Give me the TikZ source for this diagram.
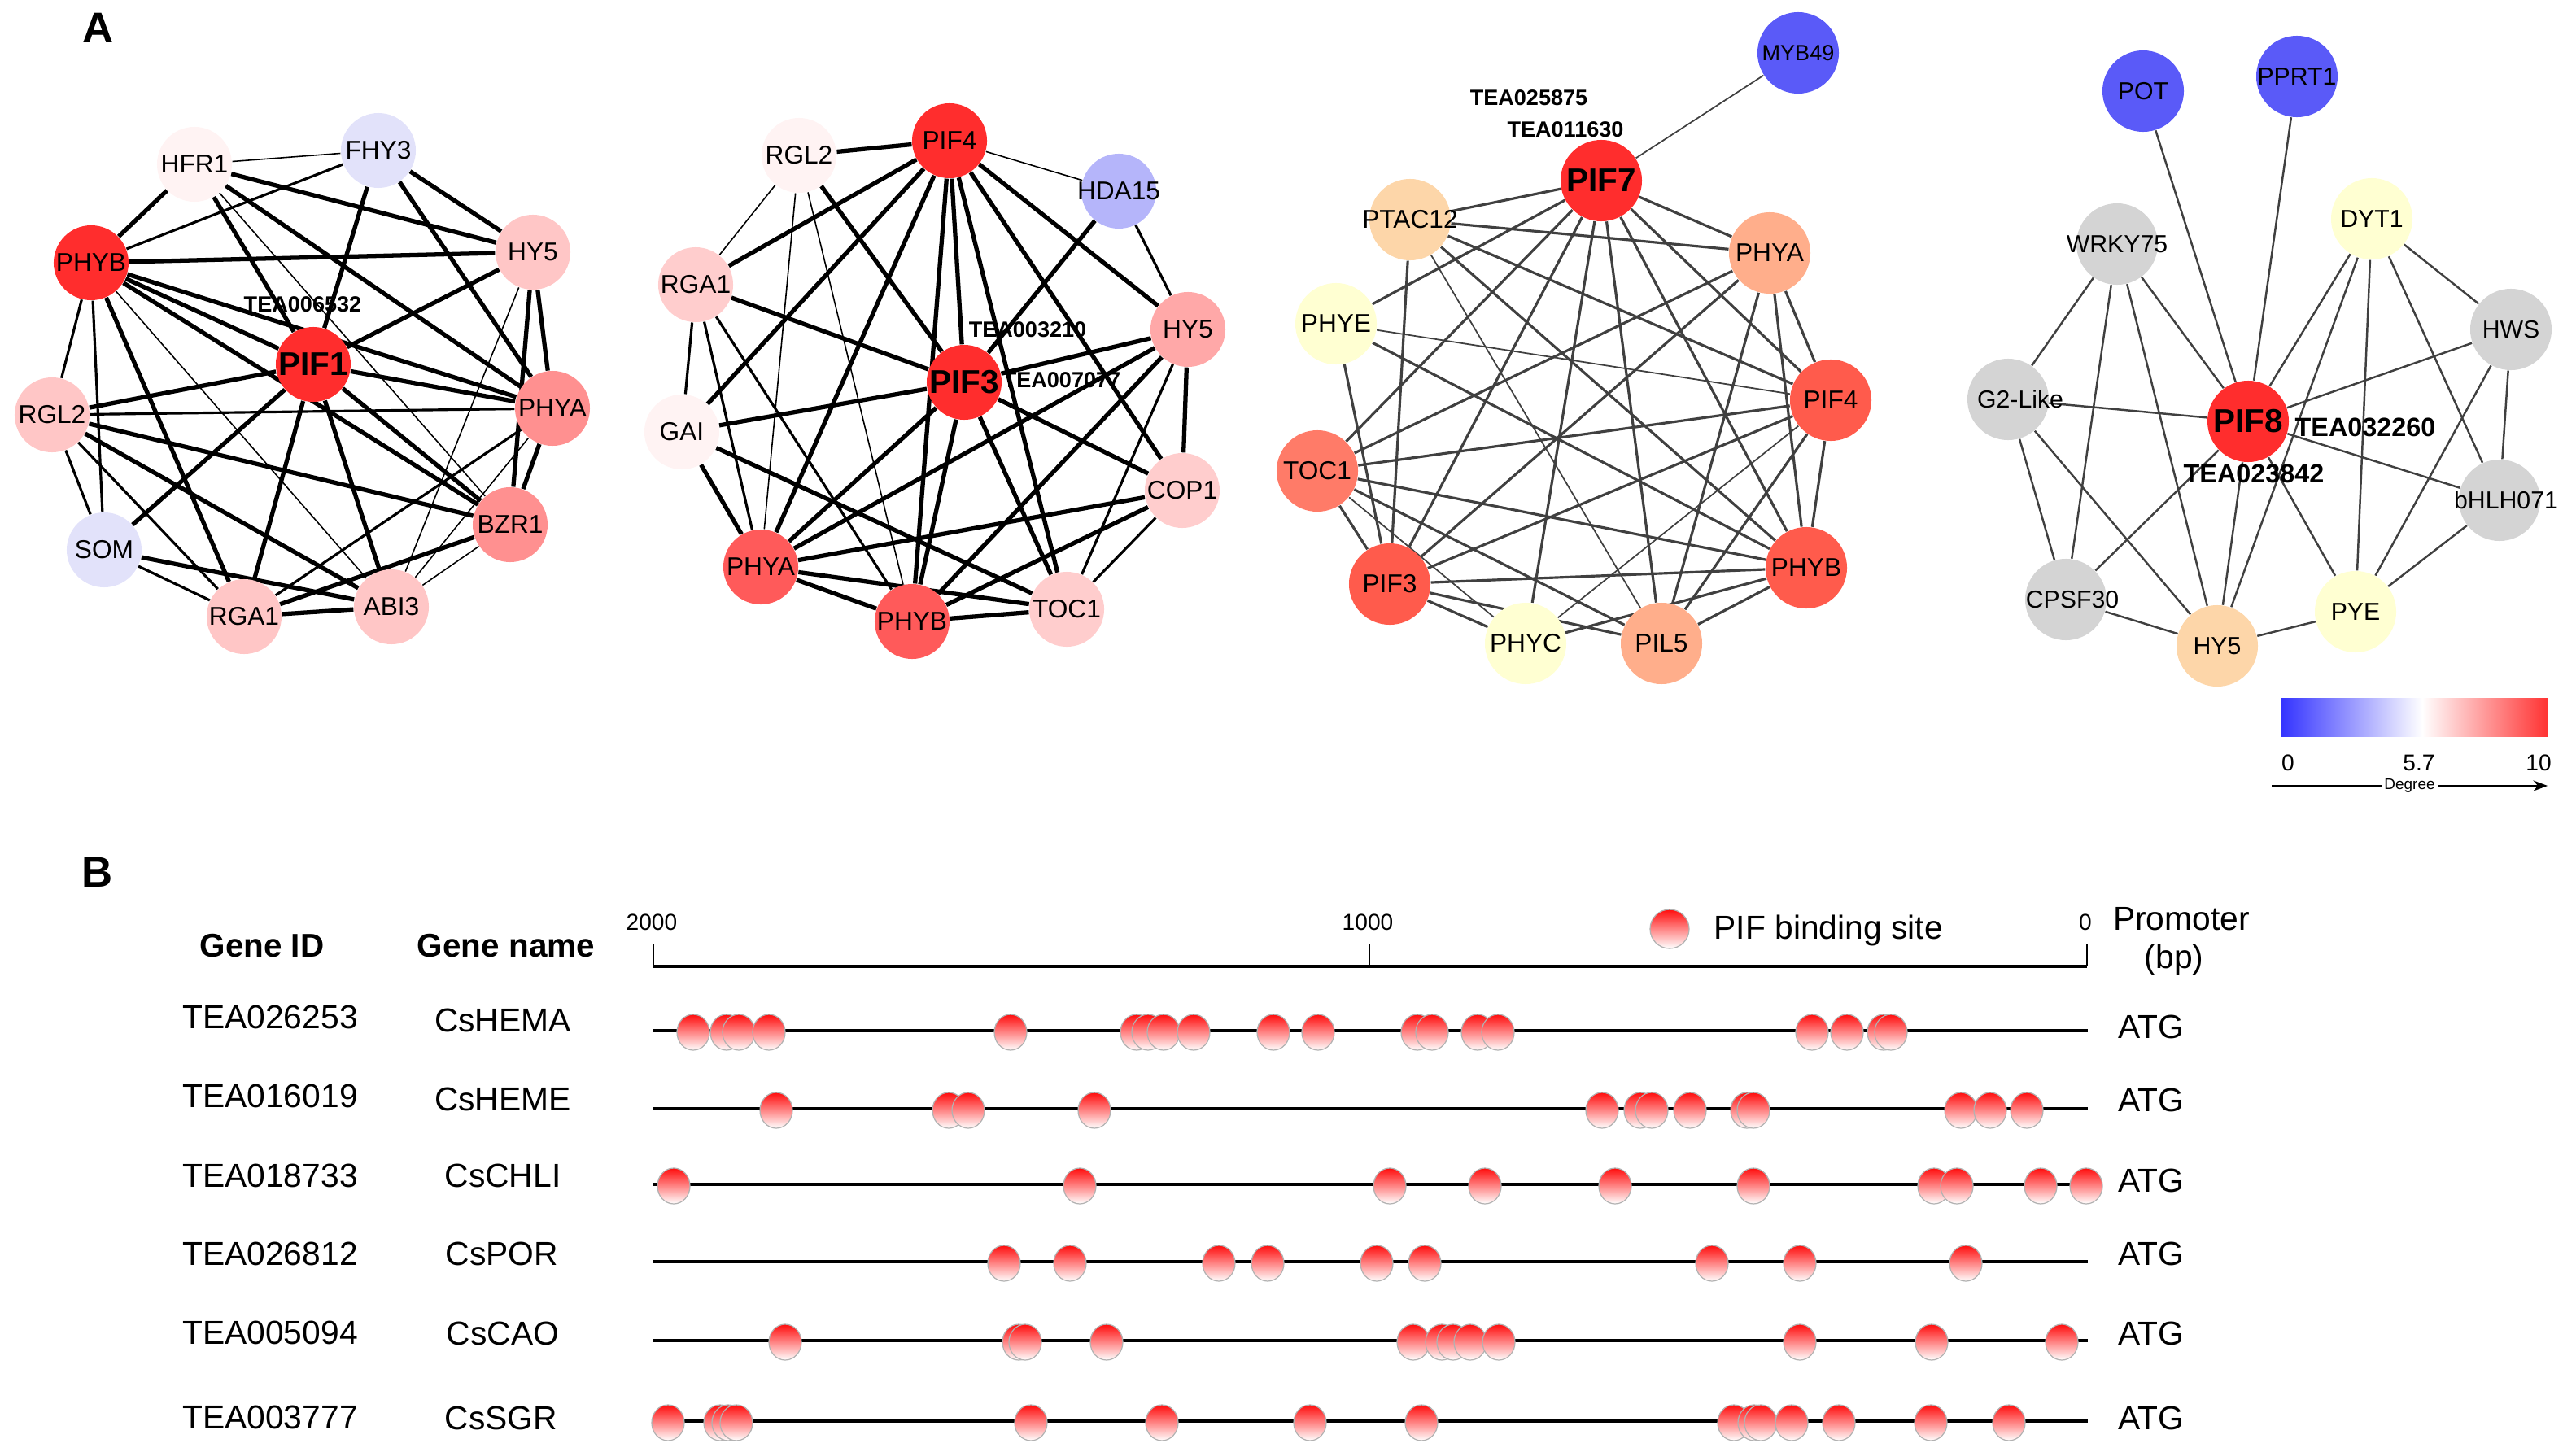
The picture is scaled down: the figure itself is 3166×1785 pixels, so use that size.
\documentclass[tikz,border=0pt]{standalone}
\usepackage{fontspec}
\setmainfont{Liberation Sans}
\usetikzlibrary{backgrounds,arrows.meta}

\definecolor{hubred}{HTML}{FF2D2D}
\definecolor{redA}{HTML}{FF5A5A}
\definecolor{redB}{HTML}{FF9090}
\definecolor{redC}{HTML}{FFA8A8}
\definecolor{pinkA}{HTML}{FFC6C6}
\definecolor{pinkB}{HTML}{FFCDCD}
\definecolor{pinkC}{HTML}{FFF3F3}
\definecolor{lilacA}{HTML}{E2E2FA}
\definecolor{lilacB}{HTML}{B5B5FA}
\definecolor{blueA}{HTML}{5A5AF8}
\definecolor{peach}{HTML}{FDD6A9}
\definecolor{salmon}{HTML}{FFAE8B}
\definecolor{tomato}{HTML}{FF7B68}
\definecolor{scarlet}{HTML}{FF5B4C}
\definecolor{creamy}{HTML}{FFFFD2}
\definecolor{ashgrey}{HTML}{D4D4D4}
\definecolor{linkgrey}{HTML}{404040}
\definecolor{cbblue}{HTML}{3333FF}
\definecolor{cbred}{HTML}{FF3333}

\tikzstyle{site}=[circle, minimum size=0.92cm, inner sep=0, font=\fontsize{9}{10}\selectfont]
\tikzstyle{bigsite}=[circle, minimum size=1.0cm, inner sep=0, font=\fontsize{9}{10}\selectfont]
\tikzstyle{smallfont}=[font=\fontsize{8.6}{10}\selectfont]
\tikzstyle{hub}=[font=\fontsize{11.5}{12}\selectfont\bfseries]
\tikzstyle{tealabel}=[font=\fontsize{7.7}{8}\selectfont\bfseries, inner sep=0]
\tikzstyle{tealabelbig}=[font=\fontsize{9.2}{10}\selectfont\bfseries, inner sep=0]
\tikzstyle{heavylink}=[line width=1.5pt]
\tikzstyle{midlink}=[line width=0.9pt]
\tikzstyle{thinlink}=[line width=0.45pt]
\tikzstyle{greylink}=[line width=0.9pt, draw=linkgrey]
\tikzstyle{faintlink}=[line width=0.5pt, draw=linkgrey]
\tikzstyle{panel}=[font=\fontsize{15}{16}\selectfont\bfseries]
\tikzstyle{rowtext}=[font=\fontsize{11.6}{13}\selectfont, inner sep=0]
\tikzstyle{head}=[font=\fontsize{11.5}{13}\selectfont\bfseries, inner sep=0]
\tikzstyle{ticktext}=[font=\fontsize{8}{9}\selectfont, inner sep=0]
\tikzstyle{rowline}=[line width=1.3pt]
\tikzstyle{tickline}=[line width=0.8pt]
\tikzstyle{bsite}=[draw=gray!60, line width=0.35pt, top color=red!95, bottom color=white]

\newcommand{\nm}[1]{\makebox[0pt]{#1}}

\begin{document}
\begin{tikzpicture}[x=0.01cm, y=-0.01cm]
\useasboundingbox (0,0) rectangle (3166,1785);

\node [panel] (lettA) at (121,34) {A};
\node [panel] (lettB) at (120,1072) {B};

% network of PIF1
\node [site, fill=pinkC] (hfrA) at (239,202) {\nm{HFR1}};
\node [site, fill=lilacA] (fhyA) at (465,185) {\nm{FHY3}};
\node [site, fill=hubred] (phybA) at (112,323) {\nm{PHYB}};
\node [site, fill=pinkA] (hyA) at (655,310) {\nm{HY5}};
\node [site, hub, fill=hubred] (pifA) at (385,448) {\nm{PIF1}};
\node [site, fill=pinkA] (rglA) at (64,510) {\nm{RGL2}};
\node [site, fill=redB] (phyaA) at (679,502) {\nm{PHYA}};
\node [site, fill=redB] (bzrA) at (627,645) {\nm{BZR1}};
\node [site, fill=lilacA] (somA) at (128,676) {\nm{SOM}};
\node [site, fill=pinkA] (rgaA) at (300,758) {\nm{RGA1}};
\node [site, fill=pinkA] (abiA) at (481,746) {\nm{ABI3}};
\node [tealabel] (teaA) at (372,374) {TEA006532};

% network of PIF3
\node [site, fill=hubred] (pifFourB) at (1167,173) {\nm{PIF4}};
\node [site, fill=pinkC] (rglB) at (982,191) {\nm{RGL2}};
\node [site, fill=lilacB] (hdaB) at (1375,235) {\nm{HDA15}};
\node [site, fill=pinkB] (rgaB) at (855,350) {\nm{RGA1}};
\node [site, fill=redC] (hyB) at (1460,405) {\nm{HY5}};
\node [site, hub, fill=hubred] (pifB) at (1185,470) {\nm{PIF3}};
\node [site, fill=pinkC] (gaiB) at (838,531) {\nm{GAI}};
\node [site, fill=pinkB] (copB) at (1453,603) {\nm{COP1}};
\node [site, fill=redA] (phyaB) at (935,697) {\nm{PHYA}};
\node [site, fill=redA] (phybB) at (1121,764) {\nm{PHYB}};
\node [site, fill=pinkB] (tocB) at (1311,749) {\nm{TOC1}};
\node [tealabel] (teaB) at (1263,405) {TEA003210};
\node [tealabel] (teaBB) at (1305,467) {TEA007077};

% network of PIF7
\node [bigsite, fill=blueA, font=\fontsize{7.7}{9}\selectfont] (mybC) at (2210,65) {\nm{MYB49}};
\node [bigsite, hub, fill=hubred] (pifC) at (1968,222) {\nm{PIF7}};
\node [bigsite, fill=peach] (ptacC) at (1733,270) {\nm{PTAC12}};
\node [bigsite, fill=salmon] (phyaC) at (2175,311) {\nm{PHYA}};
\node [bigsite, fill=creamy] (phyeC) at (1642,398) {\nm{PHYE}};
\node [bigsite, fill=scarlet] (pifFourC) at (2250,492) {\nm{PIF4}};
\node [bigsite, fill=tomato] (tocC) at (1619,579) {\nm{TOC1}};
\node [bigsite, fill=scarlet] (phybC) at (2220,698) {\nm{PHYB}};
\node [bigsite, fill=scarlet] (pifThreeC) at (1708,718) {\nm{PIF3}};
\node [bigsite, fill=creamy] (phycC) at (1875,791) {\nm{PHYC}};
\node [bigsite, fill=salmon] (pilC) at (2042,791) {\nm{PIL5}};
\node [tealabel] (teaC) at (1879,120) {TEA025875};
\node [tealabel] (teaCC) at (1924,159) {TEA011630};

% network of PIF8
\node [bigsite, smallfont, fill=blueA] (potD) at (2634,112) {\nm{POT}};
\node [bigsite, smallfont, fill=blueA] (pprtD) at (2823,94) {\nm{PPRT1}};
\node [bigsite, smallfont, fill=ashgrey] (wrkyD) at (2602,300) {\nm{WRKY75}};
\node [bigsite, smallfont, fill=creamy] (dytD) at (2915,269) {\nm{DYT1}};
\node [bigsite, smallfont, fill=ashgrey] (hwsD) at (3086,405) {\nm{HWS}};
\node [bigsite, smallfont, fill=ashgrey] (gtwoD) at (2468,491) {\nm{\hspace{0.3cm}G2-Like}};
\node [bigsite, hub, fill=hubred] (pifD) at (2763,518) {\nm{PIF8}};
\node [bigsite, smallfont, fill=ashgrey] (bhlhD) at (3072,615) {\nm{\hspace{0.16cm}bHLH071}};
\node [bigsite, smallfont, fill=ashgrey] (cpsfD) at (2539,737) {\nm{\hspace{0.16cm}CPSF30}};
\node [bigsite, smallfont, fill=creamy] (pyeD) at (2895,752) {\nm{PYE}};
\node [bigsite, smallfont, fill=peach] (hyD) at (2725,794) {\nm{HY5}};
\node [tealabelbig] (teaD) at (2907,525) {TEA032260};
\node [tealabelbig] (teaDD) at (2770,582) {TEA023842};

\begin{pgfonlayer}{background}
\draw [heavylink] (hfrA) -- (phybA) (hfrA) -- (hyA) (hfrA) -- (phyaA)
        (hfrA) -- (pifA) (fhyA) -- (pifA) (fhyA) -- (hyA)
        (fhyA) -- (phyaA) (phybA) -- (hyA) (phybA) -- (pifA)
        (phybA) -- (phyaA) (phybA) -- (bzrA) (phybA) -- (rgaA)
        (hyA) -- (pifA) (hyA) -- (phyaA) (hyA) -- (bzrA)
        (pifA) -- (rglA) (pifA) -- (phyaA) (pifA) -- (bzrA)
        (pifA) -- (somA) (pifA) -- (rgaA) (pifA) -- (abiA)
        (rglA) -- (bzrA) (rglA) -- (abiA) (bzrA) -- (rgaA)
        (somA) -- (abiA) (rgaA) -- (abiA) (phyaA) -- (bzrA);
\draw [midlink] (phybA) -- (somA) (rglA) -- (phyaA) (rglA) -- (rgaA)
        (rglA) -- (somA) (phyaA) -- (rgaA) (somA) -- (rgaA)
        (fhyA) -- (phybA) (phybA) -- (rglA);
\draw [thinlink] (hfrA) -- (fhyA) (hfrA) -- (bzrA) (phybA) -- (abiA)
        (hyA) -- (abiA) (bzrA) -- (abiA) (phyaA) -- (abiA);

\draw [heavylink] (rglB) -- (pifFourB) (pifFourB) -- (rgaB) (pifFourB) -- (gaiB)
        (pifFourB) -- (phyaB) (pifFourB) -- (phybB) (pifFourB) -- (pifB)
        (pifFourB) -- (tocB) (pifFourB) -- (copB) (pifFourB) -- (hyB)
        (rglB) -- (pifB) (hdaB) -- (pifB) (rgaB) -- (pifB)
        (hyB) -- (pifB) (hyB) -- (phyaB) (hyB) -- (phybB)
        (hyB) -- (copB) (pifB) -- (gaiB) (pifB) -- (phyaB)
        (pifB) -- (phybB) (pifB) -- (tocB) (pifB) -- (copB)
        (gaiB) -- (phyaB) (gaiB) -- (tocB) (copB) -- (phyaB)
        (copB) -- (phybB) (phyaB) -- (phybB) (phyaB) -- (tocB)
        (phybB) -- (tocB);
\draw [midlink] (hdaB) -- (hyB) (rgaB) -- (gaiB) (rgaB) -- (phyaB)
        (rgaB) -- (phybB) (hyB) -- (tocB) (copB) -- (tocB);
\draw [thinlink] (pifFourB) -- (hdaB) (rglB) -- (rgaB) (rglB) -- (phyaB)
        (rglB) -- (phybB);

\draw [greylink] (pifC) -- (ptacC) (pifC) -- (phyaC) (pifC) -- (phyeC)
        (pifC) -- (tocC) (pifC) -- (pifThreeC) (pifC) -- (phycC)
        (pifC) -- (pilC) (pifC) -- (phybC) (pifC) -- (pifFourC)
        (ptacC) -- (phyaC) (ptacC) -- (pifFourC) (ptacC) -- (phybC)
        (ptacC) -- (pifThreeC) (phyaC) -- (tocC) (phyaC) -- (pifThreeC)
        (phyaC) -- (pifFourC) (phyaC) -- (phybC) (phyaC) -- (pilC)
        (phyeC) -- (phybC) (phyeC) -- (pifThreeC) (tocC) -- (pifFourC)
        (tocC) -- (phybC) (tocC) -- (pifThreeC) (tocC) -- (pilC)
        (pifFourC) -- (pifThreeC) (pifFourC) -- (phybC) (pifFourC) -- (pilC)
        (phybC) -- (pifThreeC) (phybC) -- (phycC) (phybC) -- (pilC)
        (pifThreeC) -- (phycC) (pifThreeC) -- (pilC);
\draw [faintlink] (pifC) -- (mybC) (ptacC) -- (pilC) (phyeC) -- (pifFourC)
        (tocC) -- (phycC) (pifFourC) -- (phycC);

\draw [faintlink, line width=0.7pt] (pifD) -- (potD) (pifD) -- (pprtD) (pifD) -- (wrkyD)
        (pifD) -- (dytD) (pifD) -- (hwsD) (pifD) -- (gtwoD)
        (pifD) -- (bhlhD) (pifD) -- (cpsfD) (pifD) -- (hyD)
        (pifD) -- (pyeD) (wrkyD) -- (gtwoD) (wrkyD) -- (cpsfD)
        (wrkyD) -- (hyD) (gtwoD) -- (cpsfD) (gtwoD) -- (hyD)
        (cpsfD) -- (hyD) (hyD) -- (pyeD) (hyD) -- (dytD)
        (dytD) -- (pyeD) (dytD) -- (hwsD) (dytD) -- (bhlhD)
        (hwsD) -- (bhlhD) (hwsD) -- (pyeD) (bhlhD) -- (pyeD);
\end{pgfonlayer}

% colour bar
\shade [left color=cbblue, right color=white] (2803,858) rectangle (2977,905);
\shade [left color=white, right color=cbred] (2977,858) rectangle (3131,905);
\node [ticktext] (cbzero) at (2812,938) {0};
\node [ticktext] (cbmid) at (2973,938) {5.7};
\node [ticktext] (cbten) at (3120,938) {10};
\coordinate (degstart) at (2792,966);
\coordinate (degend) at (3131,966);
\draw [line width=0.6pt, -{Stealth[length=5pt]}] (degstart) -- node [fill=white, inner sep=1pt, font=\fontsize{5.4}{6}\selectfont] (deg) {Degree} (degend);

% promoter panel
\node [head] (hid) at (322,1163) {Gene ID};
\node [head] (hname) at (622,1163) {Gene name};
\node [ticktext] (tktwo) at (801,1134) {2000};
\node [ticktext] (tkone) at (1681,1134) {1000};
\node [ticktext] (tkzero) at (2563,1134) {0};
\draw [rowline] (803,1188) -- (2565,1188);
\draw [tickline] (803,1160) -- (803,1188) (1683,1160) -- (1683,1188) (2565,1160) -- (2565,1188);
\path [bsite] (2052,1142) ellipse (24 and 24);
\node [rowtext, anchor=west] (legtext) at (2106,1144) {PIF binding site};
\node [rowtext] (prom) at (2681,1130) {Promoter};
\node [rowtext] (bp) at (2672,1180) {(bp)};

\node [rowtext] (idone) at (332,1250) {TEA026253};
\node [rowtext] (nmone) at (618,1254) {CsHEMA};
\node [rowtext, anchor=west] (atgone) at (2603,1262) {ATG};
\draw [rowline] (803,1267) -- (2566,1267);
\foreach \p in {852,893,908,945,1242,1397,1411,1430,1467,1565,1620,1742,1760,1816,1841,2227,2270,2315,2324}
  \path [bsite] (\p,1269) ellipse (20 and 22);

\node [rowtext] (idtwo) at (332,1347) {TEA016019};
\node [rowtext] (nmtwo) at (618,1351) {CsHEME};
\node [rowtext, anchor=west] (atgtwo) at (2603,1352) {ATG};
\draw [rowline] (803,1363) -- (2566,1363);
\foreach \p in {954,1166,1190,1345,1969,2016,2030,2077,2147,2155,2410,2446,2491}
  \path [bsite] (\p,1365) ellipse (20 and 22);

\node [rowtext] (idthree) at (332,1445) {TEA018733};
\node [rowtext] (nmthree) at (618,1445) {CsCHLI};
\node [rowtext, anchor=west] (atgthree) at (2603,1451) {ATG};
\draw [rowline] (803,1456) -- (2566,1456);
\foreach \p in {828,1327,1708,1825,1985,2155,2377,2405,2508,2564}
  \path [bsite] (\p,1458) ellipse (20 and 22);

\node [rowtext] (idfour) at (332,1541) {TEA026812};
\node [rowtext] (nmfour) at (617,1541) {CsPOR};
\node [rowtext, anchor=west] (atgfour) at (2603,1541) {ATG};
\draw [rowline] (803,1551) -- (2566,1551);
\foreach \p in {1234,1315,1498,1558,1692,1751,2104,2212,2416}
  \path [bsite] (\p,1553) ellipse (20 and 22);

\node [rowtext] (idfive) at (332,1638) {TEA005094};
\node [rowtext] (nmfive) at (618,1639) {CsCAO};
\node [rowtext, anchor=west] (atgfive) at (2603,1639) {ATG};
\draw [rowline] (803,1648) -- (2566,1648);
\foreach \p in {965,1252,1260,1360,1737,1772,1786,1807,1842,2212,2374,2534}
  \path [bsite] (\p,1650) ellipse (20 and 22);

\node [rowtext] (idsix) at (332,1742) {TEA003777};
\node [rowtext] (nmsix) at (616,1743) {CsSGR};
\node [rowtext, anchor=west] (atgsix) at (2603,1743) {ATG};
\draw [rowline] (803,1747) -- (2566,1747);
\foreach \p in {821,885,895,905,1267,1428,1610,1747,2131,2156,2164,2202,2260,2373,2469}
  \path [bsite] (\p,1749) ellipse (20 and 22);

\end{tikzpicture}
\end{document}
